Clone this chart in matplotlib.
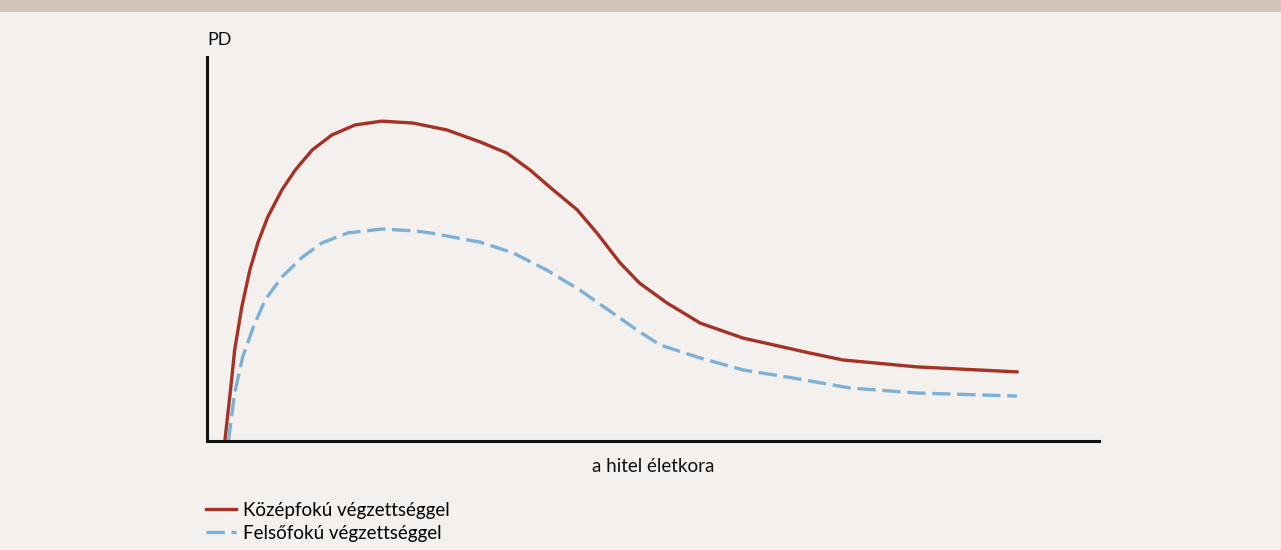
import matplotlib.pyplot as plt
from matplotlib.patches import Rectangle

# loan age (arbitrary units) and PD values
kozep_x = [2.0, 2.6, 3.1, 3.9, 4.8, 5.7, 6.8, 8.4, 9.9, 11.8, 14.0, 16.6, 19.6, 23.1, 26.9, 30.6, 33.6,
           36.2, 38.8, 41.5, 43.7, 46.3, 48.5, 51.6, 55.3, 60.1, 67.6, 71.3, 79.6, 90.8]
kozep_y = [0.0, 12.5, 23.7, 34.9, 44.5, 51.6, 58.3, 65.4, 70.6, 75.8, 79.7, 82.3, 83.3, 82.8, 81.0, 77.9, 75.0,
           70.6, 65.4, 60.2, 54.2, 46.4, 41.1, 35.9, 30.7, 26.8, 22.9, 21.1, 19.3, 18.0]

felso_x = [2.4, 3.1, 4.0, 5.2, 6.5, 8.4, 10.7, 12.9, 15.8, 19.6, 23.3, 25.0, 30.6, 34.3, 38.1, 41.8, 45.5,
           48.2, 50.8, 55.3, 60.1, 65.7, 72.1, 79.6, 90.8]
felso_y = [0.0, 12.5, 21.9, 29.7, 36.7, 42.7, 47.9, 51.6, 54.2, 55.2, 54.7, 54.2, 51.8, 49.0, 44.5, 39.3, 33.3,
           28.9, 25.0, 21.6, 18.5, 16.4, 13.8, 12.5, 11.7]

labels = ['Középfokú végzettséggel', 'Felsőfokú végzettséggel']

bg = '#F3F0ED'
plt.rcParams['font.family'] = ['Lato', 'DejaVu Sans']

fig = plt.figure(figsize=(12.81, 5.5), dpi=100, facecolor=bg)
# tan band on top
fig.patches.append(Rectangle((0, 1 - 12 / 550), 1, 12 / 550, transform=fig.transFigure,
                             facecolor='#D3C6B8', edgecolor='none'))

ax = fig.add_axes([207 / 1281, 109 / 550, 892 / 1281, 384 / 550])
ax.set_facecolor(bg)

l1, = ax.plot(kozep_x, kozep_y, color='#A53225', lw=2.4, solid_joinstyle='round')
l2, = ax.plot(felso_x, felso_y, color='#7DB0D8', lw=2.4, linestyle=(0, (5.5, 2.0)))

ax.set_xlim(0, 100)
ax.set_ylim(0, 100)
ax.set_xticks([])
ax.set_yticks([])
for s in ['top', 'right']:
    ax.spines[s].set_visible(False)
for s in ['left', 'bottom']:
    ax.spines[s].set_linewidth(2.2)
    ax.spines[s].set_color('#111111')

fig.text(207 / 1281, 1 - 40 / 550, 'PD', fontsize=13, va='center', ha='left', color='#111111')
fig.text(653 / 1281, 1 - 466 / 550, 'a hitel életkora', fontsize=13.5, va='center', ha='center', color='#111111')

fig.legend([l1, l2], labels, loc='upper left', bbox_to_anchor=(206 / 1281, 1 - 502 / 550),
           frameon=False, fontsize=13.5, handlelength=1.6, handletextpad=0.35,
           labelspacing=0.3, borderaxespad=0, borderpad=0)

fig.savefig('out.png', dpi=100, facecolor=bg)
